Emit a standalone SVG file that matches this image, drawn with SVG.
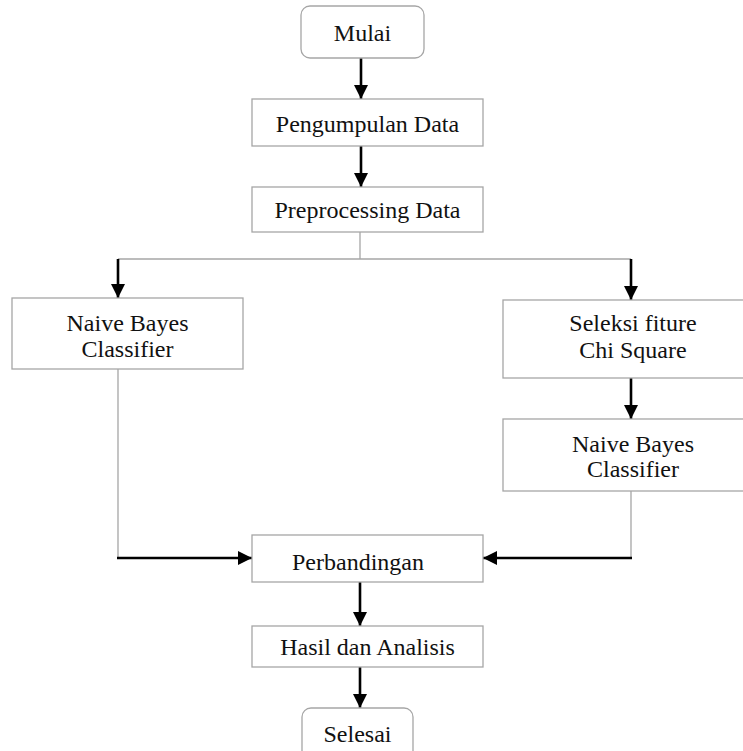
<svg xmlns="http://www.w3.org/2000/svg" width="743" height="751" viewBox="0 0 743 751">
<style>
.box{fill:#fff;stroke:#a6a6a6;stroke-width:1.3}
.t{font-family:"Liberation Serif","Times New Roman",serif;font-size:24px;fill:#111;text-anchor:middle}
.thin{fill:none;stroke:#a6a6a6;stroke-width:1.3}
.thick{fill:none;stroke:#000;stroke-width:2.6}
</style>
<defs>
<marker id="ah" viewBox="0 0 14 14" refX="14" refY="7" markerWidth="14" markerHeight="14" markerUnits="userSpaceOnUse" orient="auto">
<path d="M0,0 L14,7 L0,14 Z" fill="#000"/>
</marker>
</defs>
<rect width="743" height="751" fill="#fff"/>
<g id="connectors">
<path class="thick" d="M361,58 V99" marker-end="url(#ah)"/>
<path class="thick" d="M361,146 V187" marker-end="url(#ah)"/>
<path class="thin" d="M360,232 V259 M118,259 H631"/>
<path class="thick" d="M118,259 V298" marker-end="url(#ah)"/>
<path class="thick" d="M631,259 V300" marker-end="url(#ah)"/>
<path class="thick" d="M631,378 V419" marker-end="url(#ah)"/>
<path class="thin" d="M118,369 V558 M631,491 V558"/>
<path class="thick" d="M117,558 H252" marker-end="url(#ah)"/>
<path class="thick" d="M632,558 H483" marker-end="url(#ah)"/>
<path class="thick" d="M360,582 V626" marker-end="url(#ah)"/>
<path class="thick" d="M360,667 V708" marker-end="url(#ah)"/>
</g>
<g id="mulai"><rect class="box" x="301" y="6" width="123" height="52" rx="9"/><text class="t" x="362.5" y="41">Mulai</text></g>
<g id="pengumpulan"><rect class="box" x="252" y="99" width="231" height="47"/><text class="t" x="367.5" y="132">Pengumpulan Data</text></g>
<g id="preprocessing"><rect class="box" x="252" y="187" width="231" height="45"/><text class="t" x="367.5" y="218">Preprocessing Data</text></g>
<g id="nb1"><rect class="box" x="12" y="298" width="231" height="71"/><text class="t" x="127.5" y="331">Naive Bayes</text><text class="t" x="127.5" y="357">Classifier</text></g>
<g id="seleksi"><rect class="box" x="503" y="300" width="260" height="78"/><text class="t" x="633" y="331">Seleksi fiture</text><text class="t" x="633" y="358">Chi Square</text></g>
<g id="nb2"><rect class="box" x="503" y="419" width="260" height="72"/><text class="t" x="633" y="452">Naive Bayes</text><text class="t" x="633" y="477">Classifier</text></g>
<g id="perbandingan"><rect class="box" x="252" y="535" width="231" height="47"/><text class="t" x="358" y="570">Perbandingan</text></g>
<g id="hasil"><rect class="box" x="252" y="626" width="231" height="41"/><text class="t" x="367.5" y="655">Hasil dan Analisis</text></g>
<g id="selesai"><rect class="box" x="302" y="708" width="111" height="60" rx="9"/><text class="t" x="357.5" y="742">Selesai</text></g>
</svg>
